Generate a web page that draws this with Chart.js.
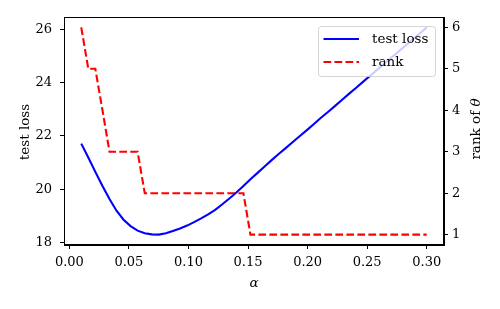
<!DOCTYPE html>
<html>
<head>
<meta charset="utf-8">
<script src="https://cdn.jsdelivr.net/npm/chart.js@4.4.1/dist/chart.umd.min.js"></script>
<style>
  html, body { margin: 0; padding: 0; background: #fff; }
</style>
</head>
<body>
<canvas id="grafico" width="500" height="309"></canvas>
<script>
// valores de alpha (eixo x)
const alphas = [
  0.0100, 0.0159, 0.0218, 0.0278, 0.0337, 0.0396, 0.0455, 0.0514, 0.0573, 0.0633,
  0.0692, 0.0751, 0.0810, 0.0869, 0.0929, 0.0988, 0.1047, 0.1106, 0.1165, 0.1224,
  0.1284, 0.1343, 0.1402, 0.1461, 0.1520, 0.1580, 0.1639, 0.1698, 0.1757, 0.1816,
  0.1876, 0.1935, 0.1994, 0.2053, 0.2112, 0.2171, 0.2231, 0.2290, 0.2349, 0.2408,
  0.2467, 0.2527, 0.2586, 0.2645, 0.2704, 0.2763, 0.2822, 0.2882, 0.2941, 0.3000
];
const testLoss = [
  21.71, 21.19, 20.65, 20.12, 19.63, 19.19, 18.85, 18.61, 18.44, 18.34,
  18.30, 18.29, 18.34, 18.43, 18.52, 18.63, 18.76, 18.90, 19.05, 19.22,
  19.43, 19.65, 19.87, 20.12, 20.37, 20.61, 20.85, 21.09, 21.32, 21.54,
  21.77, 22.00, 22.22, 22.45, 22.68, 22.90, 23.13, 23.36, 23.59, 23.81,
  24.04, 24.27, 24.49, 24.72, 24.95, 25.17, 25.40, 25.63, 25.85, 26.08
];
const rank = [
  6, 5, 5, 4, 3, 3, 3, 3, 3, 2,
  2, 2, 2, 2, 2, 2, 2, 2, 2, 2,
  2, 2, 2, 2, 1, 1, 1, 1, 1, 1,
  1, 1, 1, 1, 1, 1, 1, 1, 1, 1,
  1, 1, 1, 1, 1, 1, 1, 1, 1, 1
];
const xTicks = [0, 0.05, 0.10, 0.15, 0.20, 0.25, 0.30];
const lossTicks = [18, 20, 22, 24, 26];
const rankTicks = [1, 2, 3, 4, 5, 6];
const legendLabels = ['test loss', 'rank'];

const fonte = "'DejaVu Serif', 'Liberation Serif', serif";
const tamanhoTick = 13;
const tamanho = 13.5;
const tracejado = [7.7, 3.3];

// moldura, títulos dos eixos e legenda
const extras = {
  id: 'extras',
  afterDatasetsDraw(chart) {
    const ctx = chart.ctx;
    const a = chart.chartArea;
    ctx.save();
    ctx.strokeStyle = '#000';
    ctx.lineWidth = 1;
    ctx.strokeRect(a.left + 0.5, a.top + 0.5, a.right - a.left - 1, a.bottom - a.top - 1);

    ctx.fillStyle = '#000';
    ctx.textAlign = 'center';
    ctx.textBaseline = 'middle';

    // alpha
    ctx.font = 'italic ' + tamanho + 'px ' + fonte;
    ctx.fillText('\u03b1', (a.left + a.right) / 2, 283);

    // test loss
    ctx.font = tamanho + 'px ' + fonte;
    ctx.save();
    ctx.translate(25, 132);
    ctx.rotate(-Math.PI / 2);
    ctx.fillText('test loss', 0, 0);
    ctx.restore();

    // rank of theta
    ctx.save();
    ctx.translate(476, 129);
    ctx.rotate(-Math.PI / 2);
    const t1 = 'rank of ';
    ctx.font = tamanho + 'px ' + fonte;
    const w1 = ctx.measureText(t1).width;
    ctx.font = 'italic ' + tamanho + 'px ' + fonte;
    const w2 = ctx.measureText('\u03b8').width;
    const x0 = -(w1 + w2) / 2;
    ctx.textAlign = 'left';
    ctx.font = tamanho + 'px ' + fonte;
    ctx.fillText(t1, x0, 0);
    ctx.font = 'italic ' + tamanho + 'px ' + fonte;
    ctx.fillText('\u03b8', x0 + w1, 0);
    ctx.restore();

    // legenda
    const lx = 318.5, ly = 26.5, lw = 117, lh = 50, r = 3;
    ctx.beginPath();
    ctx.moveTo(lx + r, ly);
    ctx.arcTo(lx + lw, ly, lx + lw, ly + lh, r);
    ctx.arcTo(lx + lw, ly + lh, lx, ly + lh, r);
    ctx.arcTo(lx, ly + lh, lx, ly, r);
    ctx.arcTo(lx, ly, lx + lw, ly, r);
    ctx.closePath();
    ctx.fillStyle = 'rgba(255,255,255,0.8)';
    ctx.fill();
    ctx.lineWidth = 1;
    ctx.strokeStyle = 'rgba(204,204,204,0.8)';
    ctx.stroke();

    const estilos = [
      { cor: '#0000ff', dash: [] },
      { cor: '#ff0000', dash: tracejado }
    ];
    const linhasY = [39, 62];
    ctx.lineWidth = 2.1;
    ctx.textAlign = 'left';
    ctx.font = tamanho + 'px ' + fonte;
    legendLabels.forEach((txt, i) => {
      ctx.strokeStyle = estilos[i].cor;
      ctx.setLineDash(estilos[i].dash);
      ctx.beginPath();
      ctx.moveTo(323.5, linhasY[i]);
      ctx.lineTo(359, linhasY[i]);
      ctx.stroke();
      ctx.setLineDash([]);
      ctx.fillStyle = '#000';
      ctx.fillText(txt, 372, linhasY[i]);
    });
    ctx.restore();
  }
};

function eixo(pos, min, max, ticks, fmt, tamanhoFixo, padding) {
  return {
    type: 'linear',
    position: pos,
    min: min,
    max: max,
    afterBuildTicks: s => { s.ticks = ticks.map(v => ({ value: v })); },
    afterFit: s => {
      if (pos === 'bottom') s.height = tamanhoFixo; else s.width = tamanhoFixo;
    },
    grid: {
      drawOnChartArea: false,
      drawTicks: true,
      tickLength: 4,
      tickColor: '#000',
      tickWidth: 1
    },
    border: { display: true, color: '#000', width: 1 },
    ticks: {
      color: '#000',
      padding: padding,
      maxRotation: 0,
      autoSkip: false,
      font: { family: fonte, size: tamanhoTick },
      callback: fmt
    }
  };
}

const ctx = document.getElementById('grafico').getContext('2d');

const meuGrafico = new Chart(ctx, {
  type: 'line',
  data: {
    datasets: [
      {
        label: legendLabels[0],
        data: alphas.map((a, i) => ({ x: a, y: testLoss[i] })),
        borderColor: '#0000ff',
        borderWidth: 2.1,
        pointRadius: 0,
        tension: 0,
        yAxisID: 'y'
      },
      {
        label: legendLabels[1],
        data: alphas.map((a, i) => ({ x: a, y: rank[i] })),
        borderColor: '#ff0000',
        borderWidth: 2.1,
        borderDash: tracejado,
        pointRadius: 0,
        tension: 0,
        yAxisID: 'y2'
      }
    ]
  },
  options: {
    responsive: false,
    animation: false,
    devicePixelRatio: 1,
    layout: { padding: { top: 17, left: 0, right: 0, bottom: 0 } },
    plugins: {
      legend: { display: false },
      tooltip: { enabled: false }
    },
    scales: {
      x: eixo('bottom', -0.0045, 0.3145, xTicks, v => v.toFixed(2), 64, 6),
      y: eixo('left', 17.9, 26.47, lossTicks, v => String(v), 64, 8),
      y2: eixo('right', 0.75, 6.25, rankTicks, v => String(v), 56, 4)
    }
  },
  plugins: [extras]
});
</script>
</body>
</html>
